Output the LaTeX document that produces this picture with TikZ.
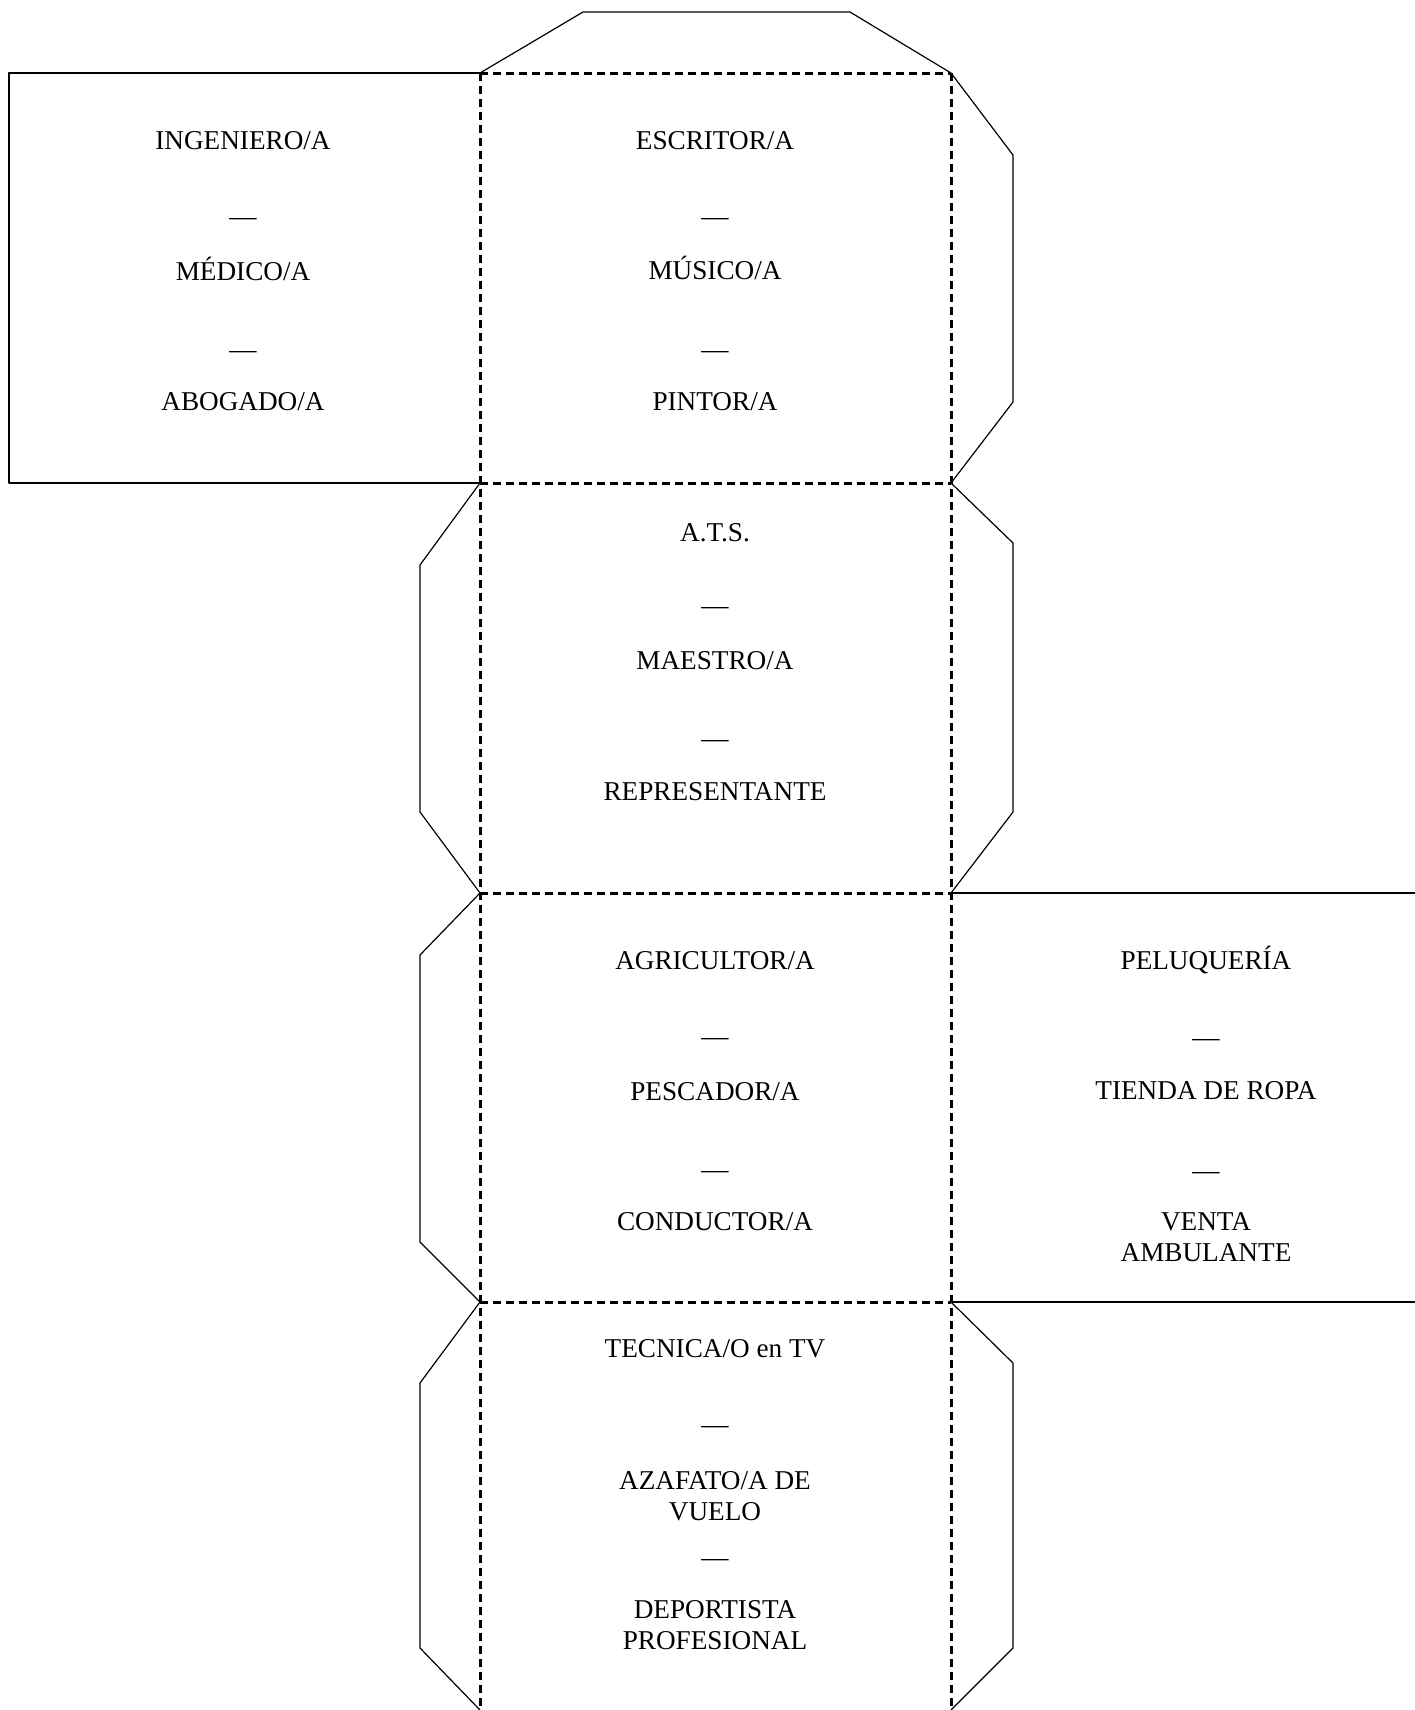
\documentclass[tikz,border=0pt]{standalone}
\usepackage{fontspec}
\setmainfont{Liberation Serif}
\tikzset{cut/.style={black, line width=0.6pt, line join=round},
  fold/.style={black, line width=1.5pt, dash pattern=on 4pt off 2.5pt},
  every node/.style={font=\fontsize{13.6}{15.5}\selectfont, align=center, inner sep=0pt},
  txt/.style={anchor=base}}

\begin{document}
\begin{tikzpicture}[x=0.5pt,y=-0.5pt]
   \useasboundingbox (0,0) rectangle (1415,1710);
   % cut lines
   \draw[cut] (480,73) -- (9,73) -- (9,483) -- (480,483);
   \draw[cut] (480,73) -- (583,12) -- (850,12) -- (951,73);
   \draw[cut] (951,73) -- (1013,155) -- (1013,402) -- (951,483)
                       -- (1013,543) -- (1013,812) -- (951,893);
   \draw[cut] (480,483) -- (420,565) -- (420,812) -- (480,893)
                        -- (420,955) -- (420,1242) -- (480,1302)
                        -- (420,1383) -- (420,1648) -- (480,1710);
   \draw[cut] (951,893) -- (1415,893);
   \draw[cut] (951,1302) -- (1415,1302);
   \draw[cut] (951,1302) -- (1013,1363) -- (1013,1648) -- (951,1710);
   % fold lines
   \draw[fold] (480,73) -- (480,1710);
   \draw[fold] (951,73) -- (951,1710);
   \foreach \y in {73,483,893,1302}
     \draw[fold] (480,\y) -- (951,\y);
   % left face
   \node[txt] (ing)  at (243,149)  {INGENIERO/A};
   \node[txt] (la1)  at (243,225)  {—};
   \node[txt] (med)  at (243,280)  {MÉDICO/A};
   \node[txt] (la2)  at (243,358)  {—};
   \node[txt] (abo)  at (243,410)  {ABOGADO/A};
   % first face
   \node[txt] (esc)  at (715,149)  {ESCRITOR/A};
   \node[txt] (fa1)  at (715,225)  {—};
   \node[txt] (mus)  at (715,279)  {MÚSICO/A};
   \node[txt] (fa2)  at (715,358)  {—};
   \node[txt] (pin)  at (715,410)  {PINTOR/A};
   % second face
   \node[txt] (ats)  at (715,541)  {A.T.S.};
   \node[txt] (fb1)  at (715,614)  {—};
   \node[txt] (mae)  at (715,669)  {MAESTRO/A};
   \node[txt] (fb2)  at (715,747)  {—};
   \node[txt] (rep)  at (715,800)  {REPRESENTANTE};
   % third face
   \node[txt] (agr)  at (715,969)  {AGRICULTOR/A};
   \node[txt] (fc1)  at (715,1045) {—};
   \node[txt] (pes)  at (715,1100) {PESCADOR/A};
   \node[txt] (fc2)  at (715,1178) {—};
   \node[txt] (con)  at (715,1230) {CONDUCTOR/A};
   % right face
   \node[txt] (pel)  at (1206,969)  {PELUQUERÍA};
   \node[txt] (ra1)  at (1206,1046) {—};
   \node[txt] (tie)  at (1206,1099) {TIENDA DE ROPA};
   \node[txt] (ra2)  at (1206,1179) {—};
   \node      (ven)  at (1206,1237.5) {VENTA\\AMBULANTE};
   % fourth face
   \node[txt] (tec)  at (715,1357)  {TECNICA/O en TV};
   \node[txt] (fd1)  at (715,1433)  {—};
   \node      (aza)  at (715,1496)  {AZAFATO/A DE\\VUELO};
   \node[txt] (fd2)  at (715,1566)  {—};
   \node      (dep)  at (715,1625.5) {DEPORTISTA\\PROFESIONAL};
\end{tikzpicture}
\end{document}
